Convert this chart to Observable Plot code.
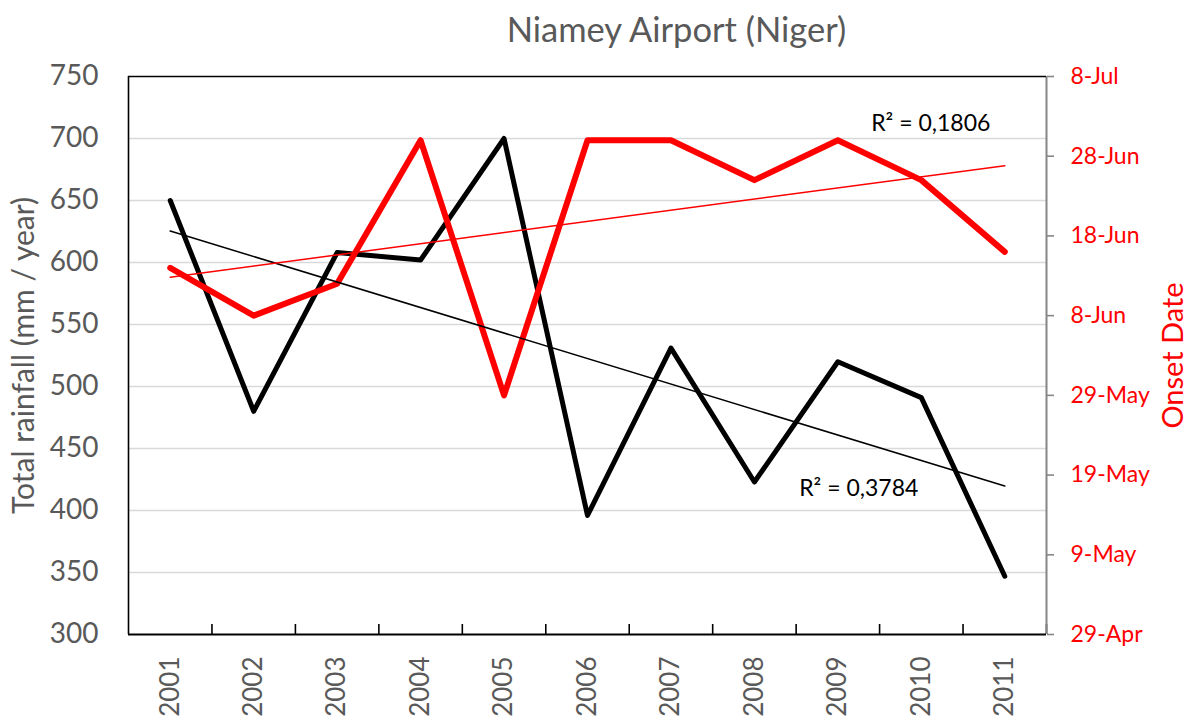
<!DOCTYPE html>
<html>
<head>
<meta charset="utf-8">
<script src="https://cdn.jsdelivr.net/npm/d3@7"></script>
<script src="https://cdn.jsdelivr.net/npm/@observablehq/plot@0.6"></script>
<style>
  body { margin: 0; background: #fff; }
  #chart svg { display: block; }
</style>
</head>
<body>
<div id="chart"></div>
<script>
// ---- data ----
const years = [2001, 2002, 2003, 2004, 2005, 2006, 2007, 2008, 2009, 2010, 2011];
const rainfall = [650, 480, 608, 602, 700, 396, 531, 423, 520, 491, 347];
const onset = ["14-Jun", "8-Jun", "12-Jun", "30-Jun", "29-May", "30-Jun", "30-Jun", "25-Jun", "30-Jun", "25-Jun", "16-Jun"];
const rainTicks = [300, 350, 400, 450, 500, 550, 600, 650, 700, 750];
const onsetTicks = ["29-Apr", "9-May", "19-May", "29-May", "8-Jun", "18-Jun", "28-Jun", "8-Jul"];
const r2Rain = "R² = 0,3784";
const r2Onset = "R² = 0,1806";
const title = "Niamey Airport (Niger)";
const leftLabel = "Total rainfall (mm / year)";
const rightLabel = "Onset Date";

// ---- helpers ----
const parse = d3.timeParse("%d-%b-%Y");
const base = parse(onsetTicks[0] + "-2001");
const dayOf = s => d3.timeDay.count(base, parse(s + "-2001"));
const rainMin = rainTicks[0], rainMax = rainTicks[rainTicks.length - 1];
const daySpan = dayOf(onsetTicks[onsetTicks.length - 1]);
const toLeft = d => rainMin + d * (rainMax - rainMin) / daySpan;

const data = years.map((year, i) => ({year, rain: rainfall[i], onsetY: toLeft(dayOf(onset[i]))}));
const boundaries = d3.range(years.length + 1).map(i => years[0] - 0.5 + i);
const xDomain = [boundaries[0], boundaries[boundaries.length - 1]];

function regEnd(key) {
  const xm = d3.mean(data, d => d.year), ym = d3.mean(data, d => d[key]);
  const sxy = d3.sum(data, d => (d.year - xm) * (d[key] - ym));
  const sxx = d3.sum(data, d => (d.year - xm) ** 2);
  const b = sxy / sxx;
  const x = years[years.length - 1];
  return {x, y: ym + b * (x - xm)};
}
const endRain = regEnd("rain");
const endOnset = regEnd("onsetY");

const onsetTickMap = new Map(onsetTicks.map(s => [toLeft(dayOf(s)), s]));

const plot = Plot.plot({
  width: 1190,
  height: 724,
  marginLeft: 128,
  marginRight: 144,
  marginTop: 76,
  marginBottom: 90,
  style: {fontFamily: "Lato, 'Open Sans', sans-serif", background: "#fff"},
  x: {domain: xDomain},
  y: {domain: [rainMin, rainMax]},
  marks: [
    Plot.ruleY(rainTicks.slice(1, -1), {stroke: "#d9d9d9", strokeWidth: 1.6}),
    Plot.axisY({ticks: rainTicks, tickFormat: d => String(d), tickSize: 0, tickPadding: 30,
      fontSize: 28, fill: "#595959", label: null}),
    Plot.axisY({anchor: "right", ticks: [...onsetTickMap.keys()], tickFormat: v => onsetTickMap.get(v),
      tickSize: 7, tickPadding: 17, fontSize: 23, fill: "#ff0000", stroke: "#868686", strokeWidth: 1.6, label: null}),
    Plot.axisX({ticks: years, tickFormat: d => String(d), tickSize: 0, tickPadding: 22, tickRotate: -90,
      fontSize: 26, fill: "#595959", label: null}),
    Plot.ruleX(boundaries.slice(1), {insetTop: 548, stroke: "#000", strokeWidth: 1.6}),
    Plot.ruleX([xDomain[1]], {stroke: "#868686", strokeWidth: 2}),
    Plot.ruleX([xDomain[0]], {stroke: "#000", strokeWidth: 1.6}),
    Plot.ruleY([rainMin], {stroke: "#000", strokeWidth: 2}),
    Plot.ruleY([rainMax], {stroke: "#000", strokeWidth: 1.6}),
    Plot.line(data, {x: "year", y: "rain", stroke: "#000", strokeWidth: 5}),
    Plot.line(data, {x: "year", y: "onsetY", stroke: "#ff0000", strokeWidth: 6}),
    Plot.linearRegressionY(data, {x: "year", y: "rain", stroke: "#000", ci: 0, strokeWidth: 1.5}),
    Plot.linearRegressionY(data, {x: "year", y: "onsetY", stroke: "#ff0000", ci: 0, strokeWidth: 1.5}),
    Plot.text([r2Onset], {x: endOnset.x, y: endOnset.y, text: d => d, dx: -74, dy: -42, fontSize: 23, fill: "#000"}),
    Plot.text([r2Rain], {x: endRain.x, y: endRain.y, text: d => d, dx: -146, dy: 3, fontSize: 23, fill: "#000"}),
    Plot.text([title], {frameAnchor: "top", lineAnchor: "middle", textAnchor: "middle", text: d => d,
      dx: 89, dy: -46, fontSize: 34.5, fill: "#595959"}),
    Plot.text([leftLabel], {frameAnchor: "left", textAnchor: "middle", lineAnchor: "middle", text: d => d,
      dx: -104, rotate: -90, fontSize: 30, fill: "#595959"}),
    Plot.text([rightLabel], {frameAnchor: "right", textAnchor: "middle", lineAnchor: "middle", text: d => d,
      dx: 127, rotate: -90, fontSize: 29, fill: "#ff0000"})
  ]
});
document.getElementById("chart").appendChild(plot);
</script>
</body>
</html>
